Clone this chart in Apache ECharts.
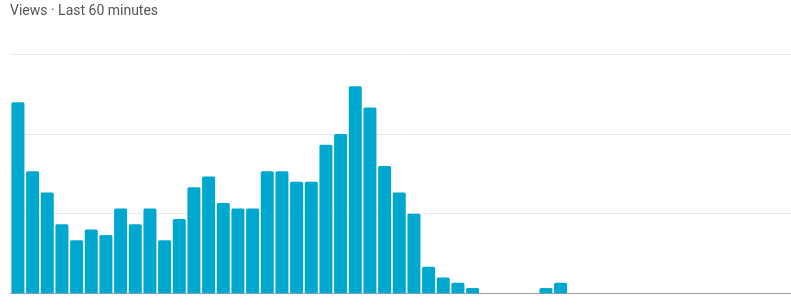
<!DOCTYPE html>
<html>
<head>
<meta charset="utf-8">
<style>
html,body{margin:0;padding:0;background:#fff;}
#chart{width:791px;height:306px;}
</style>
<script src="https://cdn.jsdelivr.net/npm/echarts@6/dist/echarts.min.js"></script>
</head>
<body>
<div id="chart"></div>
<script>
var titleText = 'Views · Last 60 minutes';
var minutes = [];
for (var i = 60; i >= 1; i--) { minutes.push(i + ' min ago'); }
var views = [
  36, 23, 19, 13, 10, 12, 11, 16, 13, 16,
  10, 14, 20, 22, 17, 16, 16, 23, 23, 21,
  21, 28, 30, 39, 35, 24, 19, 15, 5, 3,
  2, 1, 0, 0, 0, 0, 1, 2, 0, 0,
  0, 0, 0, 0, 0, 0, 0, 0, 0, 0,
  0, 0, 0, 0, 0, 0, 0, 0, 0, 0
];
var yMax = 45;
var yInterval = 15;

var chart = echarts.init(document.getElementById('chart'), null, {renderer: 'canvas'});
chart.setOption({
  animation: false,
  backgroundColor: '#ffffff',
  title: {
    text: titleText,
    left: 10,
    top: 4,
    padding: 0,
    textStyle: {fontFamily: 'Roboto', fontSize: 14, fontWeight: 'normal', color: '#555555'}
  },
  grid: {left: 10.6, top: 54.5, right: -99.6, bottom: 12.7, containLabel: false, outerBoundsMode: 'none'},
  xAxis: {
    type: 'category',
    data: minutes,
    axisLine: {show: true, lineStyle: {color: '#9e9e9e', width: 1}},
    axisTick: {show: false},
    axisLabel: {show: false},
    splitLine: {show: false}
  },
  yAxis: {
    type: 'value',
    min: 0,
    max: yMax,
    interval: yInterval,
    axisLine: {show: false},
    axisTick: {show: false},
    axisLabel: {show: false},
    splitLine: {show: true, lineStyle: {color: '#e9e9e9', width: 1}}
  },
  series: [{
    type: 'bar',
    data: views,
    barWidth: 13,
    itemStyle: {color: '#00a8d0', borderRadius: [1.5, 1.5, 0, 0]}
  }]
});
</script>
</body>
</html>
